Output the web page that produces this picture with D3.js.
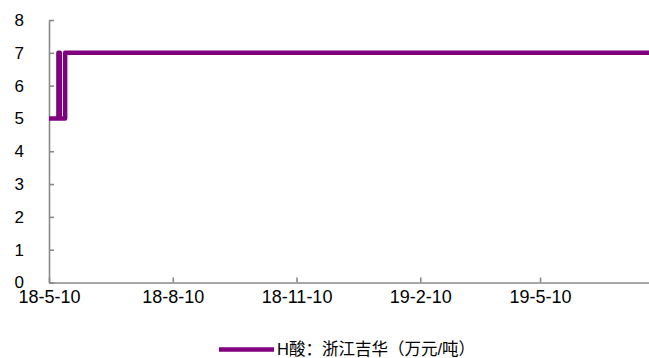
<!DOCTYPE html>
<html>
<head>
<meta charset="utf-8">
<script src="https://cdn.jsdelivr.net/npm/d3@7/dist/d3.min.js"></script>
<style>
  html, body { margin: 0; padding: 0; background: #fff; }
  svg { display: block; }
  text { font-family: "Liberation Sans", Arial, "Noto Sans CJK SC", sans-serif; fill: #000; }
</style>
</head>
<body>
<svg id="chart" width="649" height="358"></svg>
<script>
// ---- data ----
const changeDates = ["2018-05-10", "2018-05-17", "2018-05-18", "2018-05-22", "2019-07-30"];
const changeValues = [5, 7, 5, 7, 7];
const xTickDates = ["2018-05-10", "2018-08-10", "2018-11-10", "2019-02-10", "2019-05-10"];
const xTickLabels = ["18-5-10", "18-8-10", "18-11-10", "19-2-10", "19-5-10"];
const yTicks = [0, 1, 2, 3, 4, 5, 6, 7, 8];
const seriesName = "H酸：浙江吉华（万元/吨）";

(function () {
const parse = d3.timeParse("%Y-%m-%d");
const data = changeDates.map((d, i) => ({ date: parse(d), value: changeValues[i] }));

const svg = d3.select("#chart");
const mLeft = 49, mRight = 649, mTop = 20, mBottom = 282.5;

const x = d3.scaleTime()
  .domain([parse("2018-05-10"), parse("2019-07-30")])
  .range([mLeft, mRight]);
const y = d3.scaleLinear().domain([0, 8]).range([mBottom, mTop]);

const axisColor = "#898989";

// y axis
const gy = svg.append("g")
  .attr("transform", `translate(${mLeft},0)`)
  .call(d3.axisLeft(y).tickValues(yTicks).tickSize(-5).tickSizeOuter(0).tickPadding(25).tickFormat(d3.format("d")));
gy.select(".domain").attr("stroke", axisColor).attr("stroke-width", 1.6);
gy.selectAll(".tick line").attr("stroke", axisColor).attr("stroke-width", 1.6);
gy.selectAll(".tick text").style("font-size", "17px").attr("fill", "#000");

// x axis
const gx = svg.append("g")
  .attr("transform", `translate(0,${mBottom})`)
  .call(d3.axisBottom(x)
    .tickValues(xTickDates.map(parse))
    .tickSize(-5).tickSizeOuter(0).tickPadding(8)
    .tickFormat((d, i) => xTickLabels[i]));
gx.select(".domain").attr("stroke", axisColor).attr("stroke-width", 1.6);
gx.selectAll(".tick line").attr("stroke", axisColor).attr("stroke-width", 1.6);
gx.selectAll(".tick text").style("font-size", "18px").attr("fill", "#000");

// line
const line = d3.line()
  .x(d => x(d.date))
  .y(d => y(d.value))
  .curve(d3.curveStepAfter);

svg.append("path")
  .datum(data)
  .attr("fill", "none")
  .attr("stroke", "#800080")
  .attr("stroke-width", 4.5)
  .attr("stroke-linejoin", "round")
  .attr("d", line);

// legend
const lg = svg.append("g");
lg.append("line")
  .attr("x1", 219).attr("x2", 274)
  .attr("y1", 349.5).attr("y2", 349.5)
  .attr("stroke", "#800080").attr("stroke-width", 4.5);
lg.append("text")
  .attr("x", 277).attr("y", 349)
  .attr("dy", "0.35em")
  .style("font-size", "16.5px")
  .text(seriesName);
})();
</script>
</body>
</html>
